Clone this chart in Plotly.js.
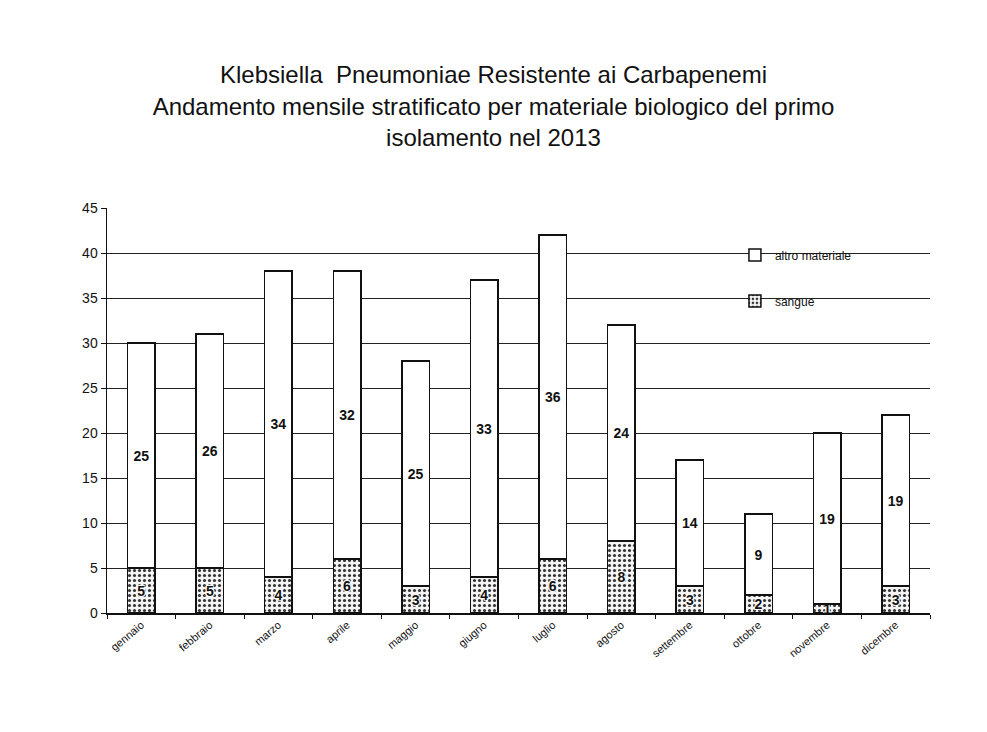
<!DOCTYPE html>
<html>
<head>
<meta charset="utf-8">
<script src="https://cdn.plot.ly/plotly-3.0.1.min.js"></script>
<style>
html,body{margin:0;padding:0;background:#fff;}
#chart{width:987px;height:732px;}
#edge{position:absolute;left:3px;top:0;width:4px;height:732px;background:#3a3a3a;}
</style>
</head>
<body>
<div id="edge"></div>
<div id="chart"></div>
<script>
const months = ["gennaio","febbraio","marzo","aprile","maggio","giugno","luglio","agosto","settembre","ottobre","novembre","dicembre"];
const sangue = [5,5,4,6,3,4,6,8,3,2,1,3];
const altroMateriale = [25,26,34,32,25,33,36,24,14,9,19,19];
const yTicks = [0,5,10,15,20,25,30,35,40,45];

const FONT = "Liberation Sans Narrow, Arial Narrow, Liberation Sans, Arial";
const textFont = {family:FONT, size:14, color:"#111", weight:"bold"};
const sangueTextFont = {family:FONT, size:14, color:"#111", weight:"bold",
  shadow:"1px 1px 1px #fff, -1px -1px 1px #fff, 1px -1px 1px #fff, -1px 1px 1px #fff"};

const traces = [
  {
    type:"bar", name:"sangue", x:months, y:sangue,
    text:sangue.map(String), textposition:"inside", insidetextanchor:"middle",
    constraintext:"none",
    textangle:0, textfont:sangueTextFont, legendgroup:"s", legendrank:2,
    marker:{color:"#ffffff", line:{color:"#111", width:1.5},
      pattern:{shape:".", fgcolor:"#333", bgcolor:"#f4f4f4", size:5, solidity:0.3}},
    hoverinfo:"x+y"
  },
  {
    type:"bar", name:"altro materiale", x:months, y:altroMateriale,
    text:altroMateriale.map(String), textposition:"inside", insidetextanchor:"middle",
    textangle:0, textfont:textFont, legendgroup:"a", legendrank:1,
    marker:{color:"#ffffff", line:{color:"#111", width:1.5}},
    hoverinfo:"x+y"
  }
];

const layout = {
  width:987, height:732,
  paper_bgcolor:"#fff", plot_bgcolor:"#fff",
  barmode:"stack", bargap:0.6,
  margin:{l:107, r:57, t:208, b:119},
  font:{family:FONT, color:"#111"},
  title:{
    text:"Klebsiella  Pneumoniae Resistente ai Carbapenemi<br>Andamento mensile stratificato per materiale biologico del primo<br>isolamento nel 2013",
    font:{family:FONT, size:24, color:"#111"},
    x:0.5, xref:"container", y:0.886, yref:"container", yanchor:"middle"
  },
  xaxis:{
    type:"category", tickangle:-40, tickfont:{size:11},
    showline:true, linecolor:"#111", linewidth:1.5,
    ticks:"outside", tickson:"boundaries", ticklen:4, tickcolor:"#111",
    showgrid:false, zeroline:false
  },
  yaxis:{
    range:[0,45], tickvals:yTicks, tickfont:{size:14},
    showline:true, linecolor:"#111", linewidth:1.5,
    ticks:"outside", ticklen:5, tickcolor:"#111",
    showgrid:true, gridcolor:"#222", gridwidth:1, zeroline:false
  },
  legend:{
    x:0.763, y:0.92, xanchor:"left", yanchor:"top",
    bgcolor:"rgba(0,0,0,0)", font:{size:12, color:"#111"},
    traceorder:"grouped", tracegroupgap:27,
    itemwidth:30
  },
  showlegend:true
};

Plotly.newPlot("chart", traces, layout, {displayModeBar:false, staticPlot:true});
</script>
</body>
</html>
